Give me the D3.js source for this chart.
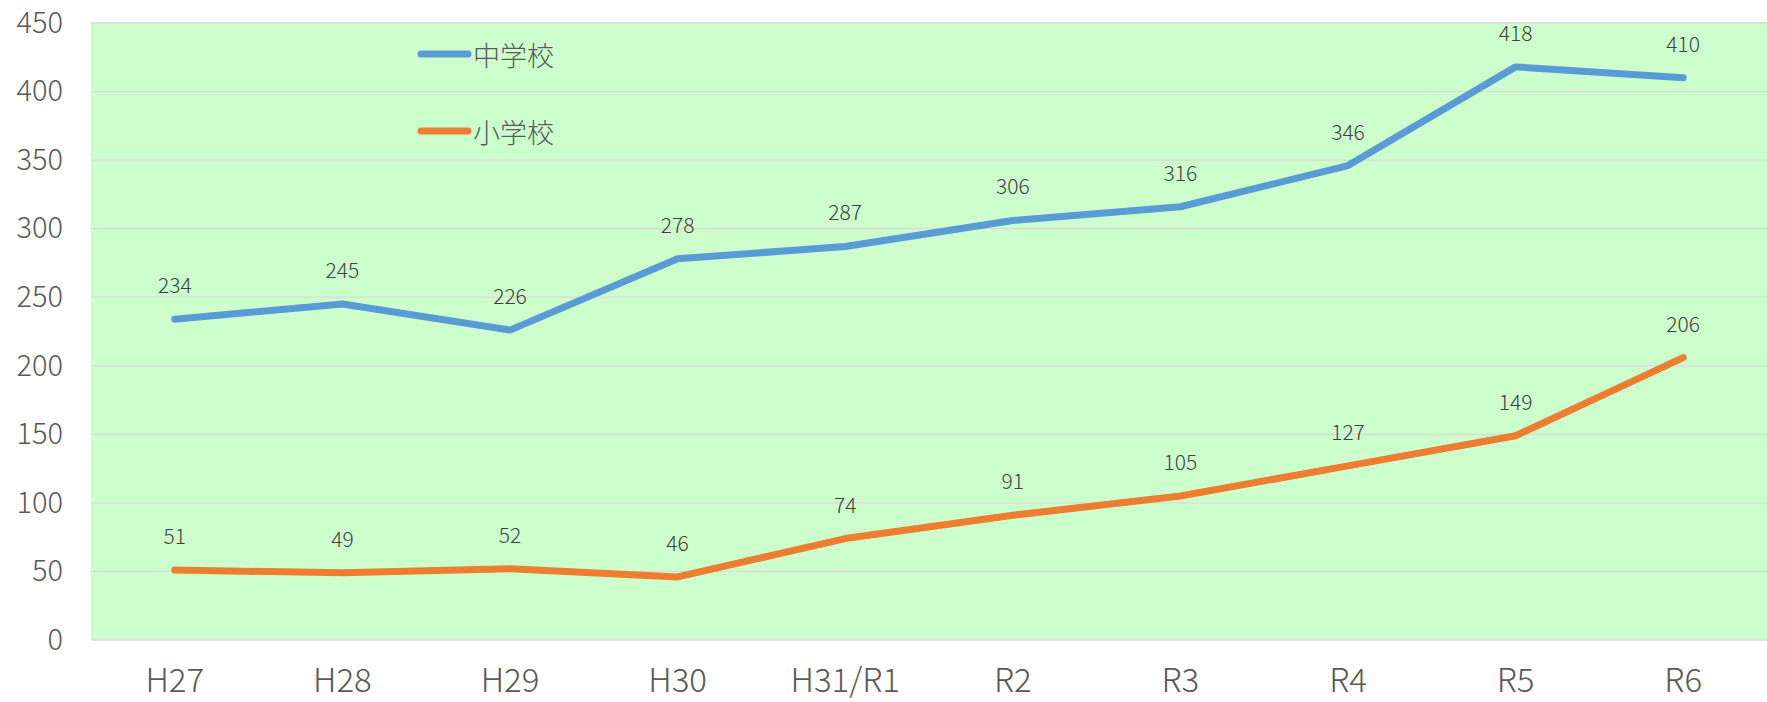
<!DOCTYPE html>
<html>
<head>
<meta charset="utf-8">
<script src="https://cdn.jsdelivr.net/npm/d3@7"></script>
<style>
  html, body { margin: 0; padding: 0; background: #fff; }
  svg { display: block; font-family: "Noto Sans CJK JP", "Noto Sans", sans-serif; }
</style>
</head>
<body>
<svg id="chart" width="1767" height="702"></svg>
<script>
// Fiscal years (Heisei / Reiwa)
const years = ["H27", "H28", "H29", "H30", "H31/R1", "R2", "R3", "R4", "R5", "R6"];
// Counts per year
const juniorHigh = [234, 245, 226, 278, 287, 306, 316, 346, 418, 410];
const elementary = [51, 49, 52, 46, 74, 91, 105, 127, 149, 206];
const seriesNames = ["中学校", "小学校"];
const seriesColors = ["#5B9BD5", "#ED7D31"];
const yTicks = [0, 50, 100, 150, 200, 250, 300, 350, 400, 450];

const W = 1767, H = 702;
const margin = { top: 23, right: 0, bottom: 62, left: 91 };
const svg = d3.select("#chart");
const g = svg.append("g").attr("transform", `translate(${margin.left},${margin.top})`);
const iw = W - margin.left - margin.right;
const ih = H - margin.top - margin.bottom;

const x = d3.scaleBand().domain(years).range([0, iw]).padding(0);
const y = d3.scaleLinear().domain([0, 450]).range([ih, 0]);
const cx = d => x(d) + x.bandwidth() / 2;

// Plot background
g.append("rect").attr("width", iw).attr("height", ih).attr("fill", "#CCFFCC");

// Horizontal gridlines
g.append("g").selectAll("line").data(yTicks).join("line")
  .attr("x1", 0).attr("x2", iw)
  .attr("y1", d => y(d)).attr("y2", d => y(d))
  .attr("stroke", "#D9D9D9").attr("stroke-width", 1.3);

// Y axis labels
const yAxis = g.append("g").call(d3.axisLeft(y).tickValues(yTicks).tickSize(0).tickPadding(28));
yAxis.select(".domain").remove();
yAxis.selectAll("text").attr("font-size", 29).attr("fill", "#595959")
  .attr("font-family", "Noto Sans CJK JP").attr("font-weight", 300);

// X axis labels
const xAxis = g.append("g").attr("transform", `translate(0,${ih})`)
  .call(d3.axisBottom(x).tickSize(0).tickPadding(29));
xAxis.select(".domain").remove();
xAxis.selectAll("text").attr("font-size", 33).attr("fill", "#595959")
  .attr("font-family", "Noto Sans CJK JP").attr("font-weight", 300);

// Lines and value labels
const line = d3.line().x((d, i) => cx(years[i])).y(d => y(d));
const seriesData = [juniorHigh, elementary];
seriesData.forEach((vals, si) => {
  g.append("path").datum(vals)
    .attr("d", line)
    .attr("fill", "none")
    .attr("stroke", seriesColors[si])
    .attr("stroke-width", 7)
    .attr("stroke-linecap", "round")
    .attr("stroke-linejoin", "round");

  g.append("g").selectAll("text").data(vals).join("text")
    .attr("x", (d, i) => cx(years[i]))
    .attr("y", d => y(d) - 35)
    .attr("text-anchor", "middle")
    .attr("dominant-baseline", "central")
    .attr("font-size", 21)
    .attr("font-weight", 300)
    .attr("fill", "#404040")
    .text(d => d);
});

// Legend
const legend = svg.append("g");
const legendY = [54, 131];
seriesNames.forEach((name, i) => {
  legend.append("line")
    .attr("x1", 421).attr("x2", 468)
    .attr("y1", legendY[i]).attr("y2", legendY[i])
    .attr("stroke", seriesColors[i]).attr("stroke-width", 7)
    .attr("stroke-linecap", "round");
  legend.append("text")
    .attr("x", 473).attr("y", legendY[i])
    .attr("dominant-baseline", "central")
    .attr("font-size", 27)
    .attr("font-weight", 300)
    .attr("fill", "#595959")
    .text(name);
});
</script>
</body>
</html>
